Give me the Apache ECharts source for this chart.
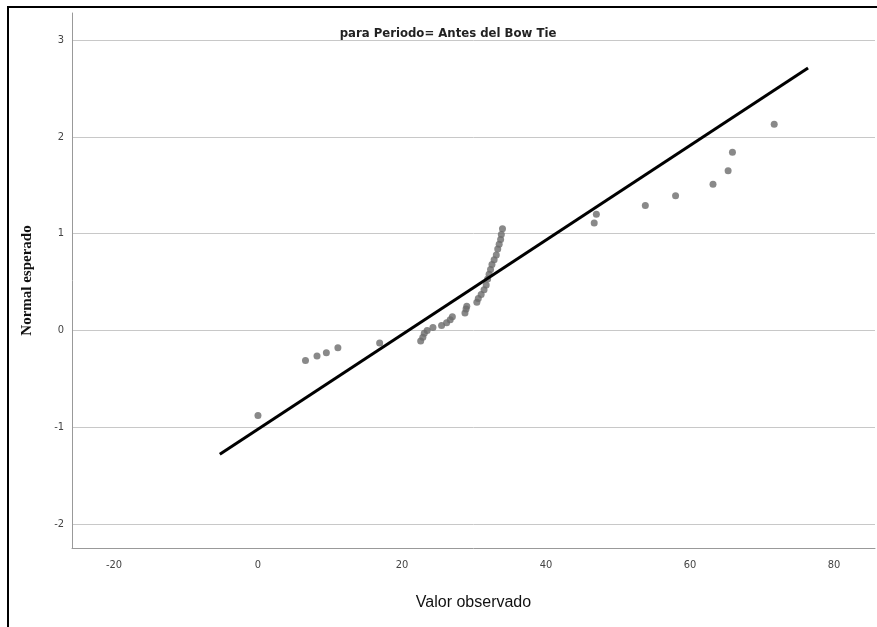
<!DOCTYPE html>
<html>
<head>
<meta charset="utf-8">
<script src="https://cdn.jsdelivr.net/npm/echarts@6/dist/echarts.min.js"></script>
<style>
html,body{margin:0;padding:0;background:#fff;}
#c{width:877px;height:627px;}
</style>
</head>
<body>
<div id="c"></div>
<script>
// Observed values (x) and expected normal values (y)
const obsX = [0, 6.6, 8.2, 9.5, 11.1, 16.9,
  22.6, 22.9, 23.1, 23.5, 24.3, 25.5, 26.2, 26.7, 27.0,
  28.75, 28.9, 29.0, 30.4, 30.6, 31.0, 31.4, 31.7, 31.9, 32.1, 32.3, 32.5, 32.8, 33.1, 33.3, 33.5, 33.7, 33.8, 33.96,
  46.7, 47.0, 53.8, 58.0, 63.2, 65.3, 65.9, 71.7];
const expY = [-0.88, -0.31, -0.265, -0.23, -0.18, -0.13,
  -0.11, -0.07, -0.03, 0.0, 0.03, 0.05, 0.08, 0.11, 0.14,
  0.18, 0.22, 0.25, 0.29, 0.33, 0.37, 0.42, 0.47, 0.53, 0.58, 0.63, 0.68, 0.73, 0.78, 0.84, 0.89, 0.94, 0.99, 1.05,
  1.11, 1.20, 1.29, 1.39, 1.51, 1.65, 1.84, 2.13];
// Reference line endpoints
const lineX = [-5.3, 76.4];
const lineY = [-1.28, 2.71];
// Tick labels
const xTicks = [-20, 0, 20, 40, 60, 80];
const yTicks = [-2, -1, 0, 1, 2, 3];

const narrow = '"Liberation Sans Narrow", "DejaVu Sans Condensed", "Liberation Sans", Arial';
const chart = echarts.init(document.getElementById('c'));
chart.setOption({
  animation: false,
  backgroundColor: '#fff',
  title: {
    text: 'para Periodo= Antes del Bow Tie',
    left: 443, top: 22, textAlign: 'center',
    textStyle: {fontFamily: narrow, fontSize: 13, fontWeight: 'bold', color: '#222'}
  },
  graphic: [{
    type: 'rect', silent: true,
    shape: {x: 8, y: 7, width: 1000, height: 1000},
    style: {fill: 'none', stroke: '#000', lineWidth: 2}
  }],
  grid: {left: 72, right: 2, top: 13, bottom: 79},
  xAxis: {
    type: 'value', min: -25.83, max: 85.7,
    name: 'Valor observado', nameLocation: 'middle', nameGap: 47,
    nameTextStyle: {fontFamily: '"Liberation Sans", Arial', fontSize: 16, color: '#111'},
    axisLine: {show: true, onZero: false, lineStyle: {color: '#999', width: 1}},
    axisTick: {show: false, customValues: xTicks},
    axisLabel: {customValues: xTicks, margin: 12, fontFamily: narrow, fontSize: 11, color: '#444'},
    splitLine: {show: false}
  },
  yAxis: {
    type: 'value', min: -2.248, max: 3.279,
    name: 'Normal esperado', nameLocation: 'middle', nameGap: 37, nameRotate: 90,
    nameTextStyle: {fontFamily: '"Liberation Serif", "Times New Roman", serif', fontSize: 15, fontWeight: 'bold', color: '#111'},
    axisLine: {show: true, onZero: false, lineStyle: {color: '#999', width: 1}},
    axisTick: {show: false, customValues: yTicks},
    axisLabel: {customValues: yTicks, margin: 8, fontFamily: narrow, fontSize: 11, color: '#444'},
    splitLine: {show: true, lineStyle: {color: '#c8c8c8', width: 1}}
  },
  series: [{
    type: 'scatter',
    data: obsX.map((x, i) => [x, expY[i]]),
    symbol: 'circle', symbolSize: 7,
    itemStyle: {color: '#6b6b6b'},
    z: 3
  }, {
    type: 'line',
    data: lineX.map((x, i) => [x, lineY[i]]),
    symbol: 'none',
    lineStyle: {color: '#000', width: 3},
    z: 4
  }]
});
</script>
</body>
</html>
